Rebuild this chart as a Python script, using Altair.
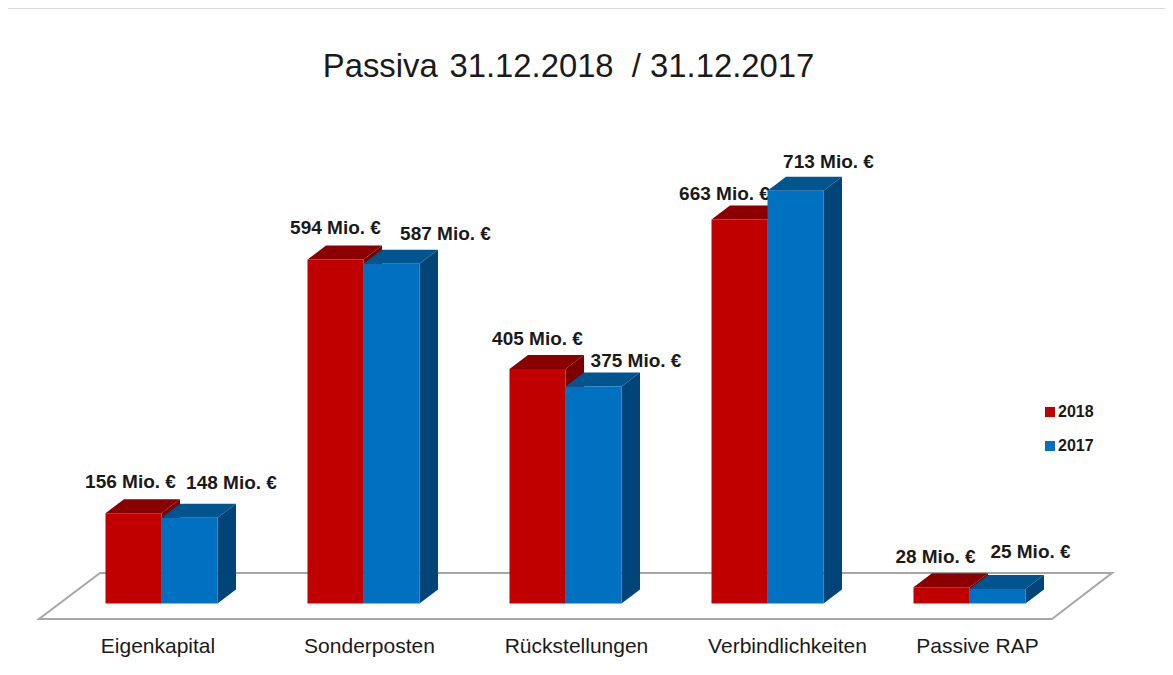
import altair as alt
import pandas as pd

title_text = "Passiva\u200a 31.12.2018\u00a0 / 31.12.2017"
categories = ["Eigenkapital", "Sonderposten", "Rückstellungen", "Verbindlichkeiten", "Passive RAP"]
values_2018 = [156, 594, 405, 663, 28]
values_2017 = [148, 587, 375, 713, 25]
series = ["2018", "2017"]
unit_suffix = " Mio. €"

# pixel geometry of the oblique projection
W, H = 1157, 659
GROUP_PX = 202.0      # px per category
PX_PER_VALUE = 0.579  # px per million
ORIGIN_X = 97.5       # plot px of group 0, left edge of the first bar
BASE_Y = 595.5        # plot px of value 0
BAR = 56 / GROUP_PX
DX = 18.5 / GROUP_PX
DY = 14 / PX_PER_VALUE

x_scale = alt.Scale(domain=[-ORIGIN_X / GROUP_PX, (W - ORIGIN_X) / GROUP_PX], nice=False, zero=False)
y_scale = alt.Scale(domain=[-(H - BASE_Y) / PX_PER_VALUE, BASE_Y / PX_PER_VALUE], nice=False, zero=False)
X = lambda f: alt.X(f, type="quantitative", scale=x_scale, axis=None)
Y = lambda f: alt.Y(f, type="quantitative", scale=y_scale, axis=None)

COL = {"2018": ("#C00000", "#8A0000", "#7A0000"), "2017": ("#0070C0", "#00558F", "#004478")}

# small placement nudges for the text, in px
label_nudge = {
    "2018": [(-3, 31), (0, 32), (0, 30), (-15, 26), (-6, 30)],
    "2017": [(42, 35), (54, 30), (42.5, 25), (33, 29), (33, 37)],
}
cat_nudge = [-3.5, 6, 11, 20, 8]


def series_layers(name, vals, offset):
    front, top, side = [], [], []
    for i, v in enumerate(vals):
        x0 = i + offset * BAR
        x1 = x0 + BAR
        front.append(dict(x=x0, x2=x1, y=0, y2=v, s=name))
        key = f"{name}-{i}"
        for x, a, b in [(x0, v, v), (x0 + DX, v + DY, v), (x1, v + DY, v), (x1 + DX, v + DY, v + DY)]:
            top.append(dict(x=x, y=a, y2=b, k=key))
        for x, a, b in [(x1, v, 0), (x1 + DX, v + DY, DY)]:
            side.append(dict(x=x, y=a, y2=b, k=key))
    c = COL[name]
    color = alt.Color("s:N", scale=alt.Scale(domain=series, range=[COL[s][0] for s in series]),
                      legend=alt.Legend(title=None, orient="none", legendX=1034, legendY=396,
                                        symbolType="square", symbolSize=100, symbolStrokeWidth=0,
                                        labelFont="Liberation Sans", labelFontSize=16, labelFontWeight="bold",
                                        labelColor="#1a1a1a", rowPadding=18, labelOffset=0))
    return [
        alt.Chart(pd.DataFrame(top)).mark_area(color=c[1]).encode(x=X("x"), y=Y("y"), y2="y2", detail="k:N"),
        alt.Chart(pd.DataFrame(side)).mark_area(color=c[2]).encode(x=X("x"), y=Y("y"), y2="y2", detail="k:N"),
        alt.Chart(pd.DataFrame(front)).mark_rect().encode(x=X("x"), x2="x2", y=Y("y"), y2="y2", color=color),
    ]


# floor plate
f_left_front = (39 - 8 - ORIGIN_X) / GROUP_PX
f_left_back = (100 - 8 - ORIGIN_X) / GROUP_PX
f_right_front = (1052 - 8 - ORIGIN_X) / GROUP_PX
f_right_back = (1112 - 8 - ORIGIN_X) / GROUP_PX
f_front = -(619 - 603.5) / PX_PER_VALUE
f_back = (603.5 - 573) / PX_PER_VALUE
floor = pd.DataFrame([
    dict(x=f_left_front, y=f_front, y2=f_front),
    dict(x=f_left_back, y=f_back, y2=f_front),
    dict(x=f_right_front, y=f_back, y2=f_front),
    dict(x=f_right_back, y=f_back, y2=f_back),
])
floor_layer = alt.Chart(floor).mark_area(fill="white", stroke="#A6A6A6", strokeWidth=2).encode(
    x=X("x"), y=Y("y"), y2="y2")

# value labels
rows = []
for off, name, vals in [(0.5, "2018", values_2018), (1.5, "2017", values_2017)]:
    for i, v in enumerate(vals):
        dx, dy = label_nudge[name][i]
        rows.append(dict(x=i + off * BAR + dx / GROUP_PX, y=v + dy / PX_PER_VALUE, t=f"{v}{unit_suffix}"))
labels = alt.Chart(pd.DataFrame(rows)).mark_text(
    font="Liberation Sans", fontSize=19, fontWeight="bold", color="#1a1a1a", baseline="middle", align="center"
).encode(x=X("x"), y=Y("y"), text="t:N")

# category labels
cat_rows = [dict(x=i + BAR + cat_nudge[i] / GROUP_PX, y=-(647 - 603.5) / PX_PER_VALUE, t=c)
            for i, c in enumerate(categories)]
cats = alt.Chart(pd.DataFrame(cat_rows)).mark_text(
    font="Liberation Sans", fontSize=21, color="#1a1a1a", baseline="middle", align="center"
).encode(x=X("x"), y=Y("y"), text="t:N")

# thin rule along the top of the picture
top_rule = alt.Chart(pd.DataFrame({"y": [1]})).mark_rule(color="#D9D9D9", strokeWidth=1).encode(
    x=alt.value(0), x2=alt.value(W), y=alt.value(0.5))

chart = alt.layer(
    top_rule, floor_layer, labels, cats,
    *series_layers("2018", values_2018, 0),
    *series_layers("2017", values_2017, 1),
).properties(
    width=W, height=H,
    padding=0,
    autosize=alt.AutoSizeParams(type="none"),
    title=alt.TitleParams(title_text, font="Liberation Sans", fontSize=32.8, fontWeight="normal",
                          color="#1a1a1a", anchor="middle", frame="group", dy=80, dx=-18),
).configure_view(stroke=None)

chart.save("out.html", embed_options={"renderer": "svg", "actions": False})
